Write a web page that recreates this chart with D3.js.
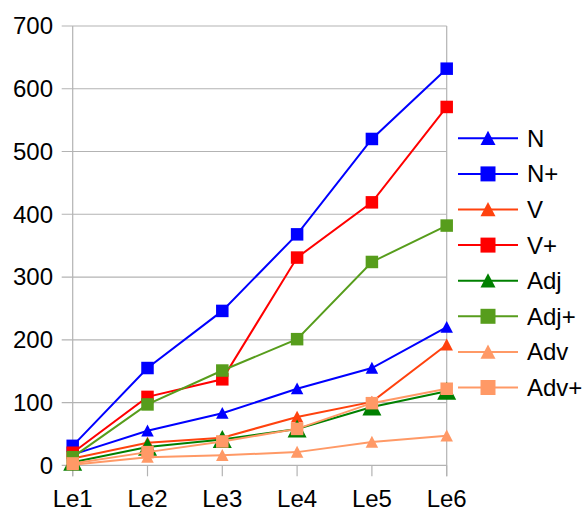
<!DOCTYPE html>
<html>
<head>
<meta charset="utf-8">
<script src="https://cdn.jsdelivr.net/npm/d3@7"></script>
<style>
  body { margin: 0; background: #fff; }
  svg text { font-family: "Liberation Sans", Arial, sans-serif; fill: #000; }
</style>
</head>
<body>
<svg id="chart" width="583" height="511"></svg>
<script>
// categories + series
const levels = ["Le1", "Le2", "Le3", "Le4", "Le5", "Le6"];
const yTicks = [0, 100, 200, 300, 400, 500, 600, 700];

const N      = [17, 55, 83, 122, 155, 220];
const Nplus  = [31, 155, 246, 368, 520, 632];
const V      = [11, 36, 44, 77, 101, 192];
const Vplus  = [20, 109, 137, 331, 419, 571];
const Adj    = [5, 29, 41, 58, 93, 118];
const AdjPlus = [13, 97, 151, 201, 324, 382];
const Adv    = [1, 13, 16, 21, 37, 47];
const AdvPlus = [3, 21, 38, 58, 99, 122];

const series = [
  { name: "N",    values: N,       color: "#0000ff", shape: "tri", size: 12.5 },
  { name: "N+",   values: Nplus,   color: "#0000ff", shape: "sq",  size: 12.5 },
  { name: "V",    values: V,       color: "#ff420e", shape: "tri", size: 12.5 },
  { name: "V+",   values: Vplus,   color: "#ff0000", shape: "sq",  size: 12.5 },
  { name: "Adj",  values: Adj,     color: "#008000", shape: "tri", size: 19 },
  { name: "Adj+", values: AdjPlus, color: "#579d1c", shape: "sq",  size: 12.5 },
  { name: "Adv",  values: Adv,     color: "#ff9966", shape: "tri", size: 12.5 },
  { name: "Adv+", values: AdvPlus, color: "#ff9966", shape: "sq",  size: 12.5 }
];

const svg = d3.select("#chart");
const plotL = 72.7, plotR = 446.7, plotT = 26, plotB = 465.3;

const x = d3.scalePoint().domain(levels).range([plotL, plotR]).padding(0);
const y = d3.scaleLinear().domain([0, 700]).range([plotB, plotT]);

const grid = "#b3b3b3";

// horizontal grid lines, extended left as ticks
svg.append("g").selectAll("line").data(yTicks).join("line")
  .attr("x1", plotL - 11).attr("x2", plotR)
  .attr("y1", d => y(d)).attr("y2", d => y(d))
  .attr("stroke", grid).attr("stroke-width", 1.2);

// plot frame sides
svg.append("line").attr("x1", plotL).attr("x2", plotL).attr("y1", plotT).attr("y2", plotB + 11)
  .attr("stroke", grid).attr("stroke-width", 1.2);
svg.append("line").attr("x1", plotR).attr("x2", plotR).attr("y1", plotT).attr("y2", plotB + 11)
  .attr("stroke", grid).attr("stroke-width", 1.2);

// x ticks
svg.append("g").selectAll("line").data(levels).join("line")
  .attr("x1", d => x(d)).attr("x2", d => x(d))
  .attr("y1", plotB).attr("y2", plotB + 11)
  .attr("stroke", grid).attr("stroke-width", 1.2);

// y labels
svg.append("g").selectAll("text").data(yTicks).join("text")
  .attr("x", 53).attr("y", d => y(d)).attr("dy", "0.35em")
  .attr("text-anchor", "end").attr("font-size", 24)
  .text(d => d);

// x labels
svg.append("g").selectAll("text").data(levels).join("text")
  .attr("x", d => x(d)).attr("y", 507)
  .attr("text-anchor", "middle").attr("font-size", 24)
  .text(d => d);

// markers centred on their bounding box (like the office chart)
function marker(g, shape, color, size) {
  const h = size / 2;
  const d = shape === "sq"
    ? `M${-h},${-h}H${h}V${h}H${-h}Z`
    : `M0,${-h}L${h},${h * 0.9}L${-h},${h * 0.9}Z`;
  g.append("path").attr("d", d).attr("fill", color);
}

const line = d3.line().x((d, i) => x(levels[i])).y(d => y(d));

series.forEach(s => {
  const g = svg.append("g");
  g.append("path").datum(s.values)
    .attr("d", line).attr("fill", "none")
    .attr("stroke", s.color).attr("stroke-width", 2);
  s.values.forEach((v, i) => {
    const m = g.append("g").attr("transform", `translate(${x(levels[i])},${y(v)})`);
    marker(m, s.shape, s.color, s.size);
  });
});

// legend
const legend = svg.append("g");
series.forEach((s, i) => {
  const cy = 138.3 + i * 35.6;
  const g = legend.append("g").attr("transform", `translate(0,${cy})`);
  g.append("line").attr("x1", 458).attr("x2", 518).attr("y1", 0).attr("y2", 0)
    .attr("stroke", s.color).attr("stroke-width", 2);
  const m = g.append("g").attr("transform", "translate(488,0)");
  marker(m, s.shape, s.color, 15);
  g.append("text").attr("x", 527).attr("y", 0).attr("dy", "0.35em")
    .attr("font-size", 24).text(s.name);
});
</script>
</body>
</html>
